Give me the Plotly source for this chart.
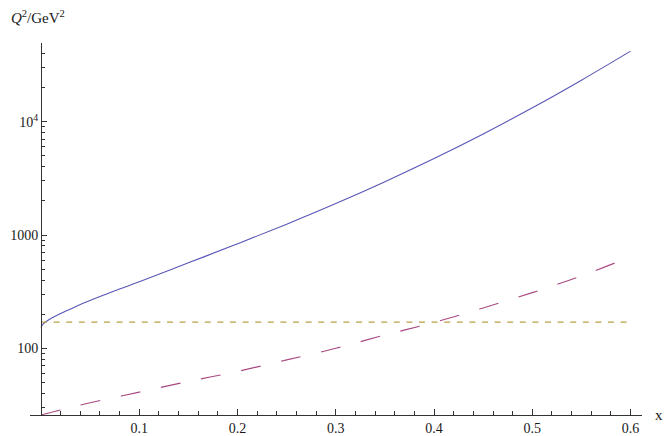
import plotly.graph_objects as go

# --- data ---
x_blue = [0, 0.0025, 0.005, 0.01, 0.02, 0.03, 0.04, 0.06, 0.08, 0.1, 0.15, 0.2, 0.25, 0.3, 0.35, 0.4, 0.45, 0.5, 0.55, 0.6]
y_blue = [153, 165, 171.5, 183, 203, 222, 243, 286, 333, 386, 568, 836, 1247, 1897, 2958, 4732, 7798, 13270, 23280, 41980]

x_mag = [0, 0.02, 0.05, 0.1, 0.15, 0.2, 0.25, 0.3, 0.35, 0.4, 0.45, 0.5, 0.55, 0.6]
y_mag = [25.8, 28.6, 33.0, 41.0, 51.0, 62.5, 79.0, 100.0, 131.0, 169.0, 227.0, 310.0, 436.0, 643.0]

x_const = [0, 0.6]
y_const = [170, 170]

x_tickvals = [0.1, 0.2, 0.3, 0.4, 0.5, 0.6]
x_ticktext = ["0.1", "0.2", "0.3", "0.4", "0.5", "0.6"]
x_minor = [0.02, 0.04, 0.06, 0.08, 0.12, 0.14, 0.16, 0.18, 0.22, 0.24, 0.26, 0.28,
           0.32, 0.34, 0.36, 0.38, 0.42, 0.44, 0.46, 0.48, 0.52, 0.54, 0.56, 0.58]
y_tickvals = [100, 1000, 10000]
y_ticktext = ["100", "1000", "10<sup>4</sup>"]
y_minor = [30, 40, 50, 60, 70, 80, 90, 200, 300, 400, 500, 600, 700, 800, 900,
           2000, 3000, 4000, 5000, 6000, 7000, 8000, 9000, 20000, 30000, 40000]

FONT = "Liberation Serif, Times New Roman, serif"
AX = "#333333"
TXT = "#1a1a1a"

fig = go.Figure()
fig.add_trace(go.Scatter(x=x_blue, y=y_blue, mode="lines", line=dict(color="rgb(88,86,182)", width=1.1, shape="spline"), hoverinfo="skip"))
fig.add_trace(go.Scatter(x=x_mag, y=y_mag, mode="lines", line=dict(color="rgb(168,72,128)", width=1.1, dash="20px,21px", shape="spline"), hoverinfo="skip"))
fig.add_trace(go.Scatter(x=x_const, y=y_const, mode="lines", line=dict(color="rgb(185,160,70)", width=1.2, dash="6px,6.6px"), hoverinfo="skip"))

fig.update_layout(
    width=665, height=436,
    margin=dict(l=30, r=23, t=43, b=21, autoexpand=False),
    paper_bgcolor="white", plot_bgcolor="white",
    showlegend=False,
    font=dict(family=FONT, size=14, color=TXT),
    xaxis=dict(range=[-0.0112, 0.6116], showgrid=False, zeroline=False, automargin=False,
               showline=True, linecolor=AX, linewidth=1,
               tickvals=x_tickvals, ticktext=x_ticktext, ticks="inside", ticklen=6, tickcolor=AX,
               minor=dict(tickvals=x_minor, ticks="inside", ticklen=4, tickcolor=AX, showgrid=False),
               tickfont=dict(family=FONT, size=14, color=TXT), anchor="y"),
    yaxis=dict(type="log", range=[1.411, 4.695], showgrid=False, zeroline=False, automargin=False,
               showline=True, linecolor=AX, linewidth=1,
               anchor="free", position=0.018,
               tickvals=y_tickvals, ticktext=y_ticktext, ticks="inside", ticklen=5, tickcolor=AX,
               minor=dict(tickvals=y_minor, ticks="inside", ticklen=3, tickcolor=AX, showgrid=False),
               tickfont=dict(family=FONT, size=14, color=TXT)),
    annotations=[
        dict(text="<i>Q</i><sup>2</sup>/GeV<sup>2</sup>", xref="paper", yref="paper", x=-0.035, y=1.04,
             xanchor="left", yanchor="bottom", showarrow=False, font=dict(family=FONT, size=15, color=TXT)),
        dict(text="x", xref="paper", yref="paper", x=1.027, y=0.0,
             xanchor="center", yanchor="middle", showarrow=False, borderpad=0,
             font=dict(family=FONT, size=15, color=TXT)),
    ],
)

fig.write_html("out.html", config={"displayModeBar": False},
               post_script="document.body.style.margin='0';document.body.style.overflow='hidden';")
